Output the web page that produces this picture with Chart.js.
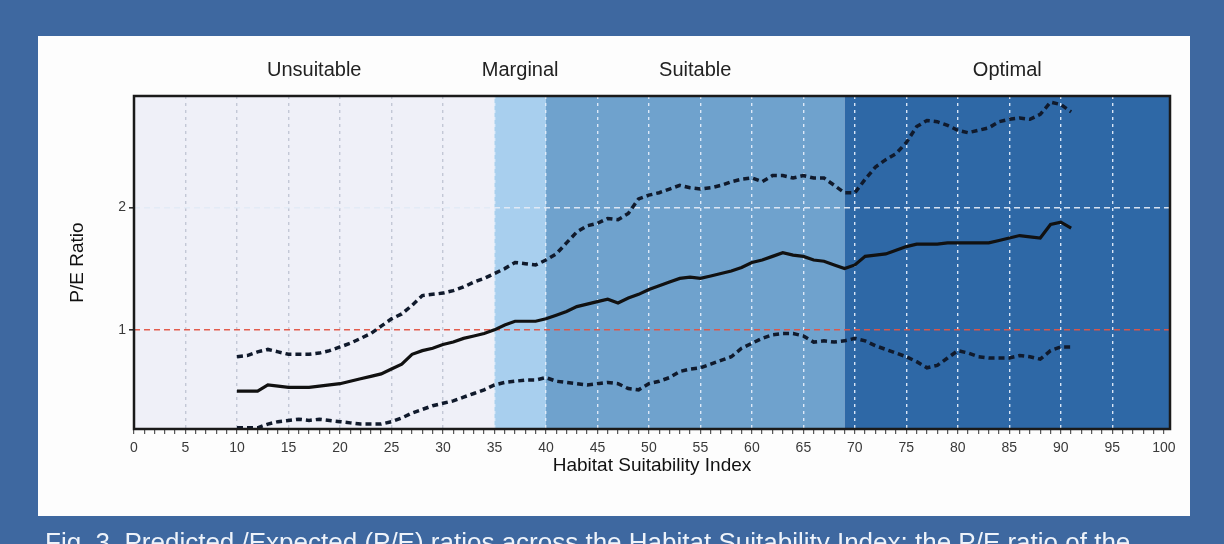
<!DOCTYPE html>
<html>
<head>
<meta charset="utf-8">
<script src="https://cdn.jsdelivr.net/npm/chart.js@4"></script>
<style>
  html, body { margin: 0; padding: 0; background: #3e68a0; }
  #wrap { position: relative; width: 1224px; height: 544px; }
</style>
</head>
<body>
<div id="wrap"><canvas id="chart" width="1224" height="544"></canvas></div>
<script>
// habitat suitability index (x) for each sample
const hsiValues = [10, 11, 12, 13, 14, 15, 16, 17, 18, 19,
  20, 21, 22, 23, 24, 25, 26, 27, 28, 29,
  30, 31, 32, 33, 34, 35, 36, 37, 38, 39,
  40, 41, 42, 43, 44, 45, 46, 47, 48, 49,
  50, 51, 52, 53, 54, 55, 56, 57, 58, 59,
  60, 61, 62, 63, 64, 65, 66, 67, 68, 69,
  70, 71, 72, 73, 74, 75, 76, 77, 78, 79,
  80, 81, 82, 83, 84, 85, 86, 87, 88, 89,
  90, 91];

// mean P/E ratio (solid line)
const meanRatio = [0.50, 0.50, 0.50, 0.55, 0.54, 0.53, 0.53, 0.53, 0.54, 0.55,
  0.56, 0.58, 0.60, 0.62, 0.64, 0.68, 0.72, 0.80, 0.83, 0.85,
  0.88, 0.90, 0.93, 0.95, 0.97, 1.00, 1.04, 1.07, 1.07, 1.07,
  1.09, 1.12, 1.15, 1.19, 1.21, 1.23, 1.25, 1.22, 1.26, 1.29,
  1.33, 1.36, 1.39, 1.42, 1.43, 1.42, 1.44, 1.46, 1.48, 1.51,
  1.55, 1.57, 1.60, 1.63, 1.61, 1.60, 1.57, 1.56, 1.53, 1.50,
  1.53, 1.60, 1.61, 1.62, 1.65, 1.68, 1.70, 1.70, 1.70, 1.71,
  1.71, 1.71, 1.71, 1.71, 1.73, 1.75, 1.77, 1.76, 1.75, 1.86,
  1.88, 1.83];

// upper bound (dashed)
const upperRatio = [0.78, 0.79, 0.82, 0.84, 0.82, 0.80, 0.80, 0.80, 0.81, 0.83,
  0.86, 0.89, 0.93, 0.97, 1.03, 1.09, 1.13, 1.20, 1.28, 1.29,
  1.30, 1.32, 1.35, 1.39, 1.42, 1.46, 1.50, 1.55, 1.54, 1.53,
  1.57, 1.62, 1.71, 1.80, 1.85, 1.87, 1.91, 1.90, 1.95, 2.07,
  2.10, 2.12, 2.15, 2.18, 2.16, 2.15, 2.16, 2.18, 2.21, 2.23,
  2.24, 2.21, 2.26, 2.26, 2.24, 2.26, 2.24, 2.24, 2.18, 2.12,
  2.12, 2.23, 2.33, 2.39, 2.44, 2.53, 2.66, 2.71, 2.70, 2.67,
  2.63, 2.61, 2.63, 2.65, 2.70, 2.72, 2.73, 2.72, 2.76, 2.86,
  2.84, 2.78];

// lower bound (dashed)
const lowerRatio = [0.20, 0.20, 0.20, 0.23, 0.25, 0.26, 0.27, 0.26, 0.27, 0.26,
  0.25, 0.24, 0.23, 0.23, 0.23, 0.25, 0.28, 0.32, 0.35, 0.38,
  0.40, 0.42, 0.45, 0.48, 0.51, 0.55, 0.57, 0.58, 0.59, 0.59,
  0.61, 0.58, 0.57, 0.56, 0.55, 0.56, 0.57, 0.56, 0.52, 0.51,
  0.56, 0.58, 0.61, 0.66, 0.68, 0.69, 0.72, 0.75, 0.78, 0.85,
  0.89, 0.93, 0.96, 0.97, 0.97, 0.95, 0.90, 0.91, 0.90, 0.91,
  0.93, 0.91, 0.87, 0.84, 0.81, 0.78, 0.74, 0.69, 0.71, 0.77,
  0.83, 0.81, 0.78, 0.77, 0.77, 0.77, 0.79, 0.78, 0.76, 0.83,
  0.86, 0.86];

// habitat classes along the x axis
const regionNames = ["Unsuitable", "Marginal", "Suitable", "Optimal"];
const regionStart = [0, 35, 40, 69];
const regionEnd = [35, 40, 69, 100.6];
const regionColors = ["#eff0f8", "#a8cfee", "#6fa2cd", "#2e68a6"];

const xTickLabels = [0, 5, 10, 15, 20, 25, 30, 35, 40, 45, 50, 55, 60, 65, 70, 75, 80, 85, 90, 95, 100];
const yTickLabels = [1, 2];

const captionText = "Fig. 3. Predicted /Expected (P/E) ratios across the Habitat Suitability Index; the P/E ratio of the";

const FONT = "'Liberation Sans', Arial, sans-serif";

// minor tick marks every 1 unit
const minorTicks = [];
for (let v = 0; v <= 100; v++) minorTicks.push(v);

const toPoints = (ys) => hsiValues.map((x, i) => ({ x: x, y: ys[i] }));

const backdrop = {
    id: "backdrop",
    beforeDraw(chart) {
        const { ctx, chartArea, scales } = chart;
        ctx.save();
        ctx.fillStyle = "#3e68a0";
        ctx.fillRect(0, 0, chart.width, chart.height);
        ctx.fillStyle = "#fdfdfd";
        ctx.fillRect(38, 36, 1152, 480);

        // class bands
        regionNames.forEach((name, i) => {
            const x1 = scales.x.getPixelForValue(regionStart[i]);
            const x2 = scales.x.getPixelForValue(regionEnd[i]);
            ctx.fillStyle = regionColors[i];
            ctx.fillRect(x1, chartArea.top, x2 - x1, chartArea.bottom - chartArea.top);
            ctx.fillStyle = "#222";
            ctx.font = "20px " + FONT;
            ctx.textAlign = "center";
            ctx.textBaseline = "middle";
            ctx.fillText(name, (x1 + x2) / 2, 70);
        });

        // caption under the panel, cut by the page edge
        ctx.fillStyle = "#eef3fa";
        ctx.font = "26px " + FONT;
        ctx.textAlign = "left";
        ctx.textBaseline = "alphabetic";
        ctx.fillText(captionText, 45, 551);
        ctx.restore();
    },
    afterDraw(chart) {
        const { ctx, chartArea } = chart;
        ctx.save();
        ctx.strokeStyle = "#1a1a1a";
        ctx.lineWidth = 2.5;
        ctx.strokeRect(chartArea.left, chartArea.top, chartArea.right - chartArea.left, chartArea.bottom - chartArea.top);
        ctx.restore();
    }
};

const ctx = document.getElementById("chart").getContext("2d");
new Chart(ctx, {
    type: "line",
    data: {
        datasets: [
            {
                label: "Upper",
                data: toPoints(upperRatio),
                borderColor: "#101a2c",
                borderWidth: 3.5,
                borderDash: [6, 4],
                pointRadius: 0,
                tension: 0,
            },
            {
                label: "Mean",
                data: toPoints(meanRatio),
                borderColor: "#111111",
                borderWidth: 3.2,
                pointRadius: 0,
                tension: 0,
            },
            {
                label: "Lower",
                data: toPoints(lowerRatio),
                borderColor: "#101a2c",
                borderWidth: 3.5,
                borderDash: [6, 4],
                pointRadius: 0,
                tension: 0,
            },
        ],
    },
    options: {
        responsive: false,
        animation: false,
        layout: { padding: { left: 66, right: 54, top: 96, bottom: 67 } },
        plugins: {
            legend: { display: false },
            tooltip: { enabled: false },
        },
        scales: {
            x: {
                type: "linear",
                min: 0,
                max: 100.6,
                afterBuildTicks: (s) => { s.ticks = minorTicks.map((v) => ({ value: v })); },
                afterFit: (s) => { s.height = 48; },
                ticks: {
                    autoSkip: false,
                    maxRotation: 0,
                    padding: 6,
                    color: "#3a3a3a",
                    font: { size: 14, family: FONT },
                    callback: (v) => (xTickLabels.includes(v) ? String(v) : ""),
                },
                grid: {
                    color: (c) => {
                        if (!c.tick || c.tick.value % 5 !== 0 || c.tick.value <= 0 || c.tick.value >= 100) return "rgba(0,0,0,0)";
                        return c.tick.value < 35 ? "rgba(190,195,210,0.9)" : "rgba(225,236,250,0.95)";
                    },
                    lineWidth: 1.4,
                    borderDash: [3, 4],
                    tickLength: 5,
                    tickColor: "#333",
                    tickWidth: 1,
                },
                border: { display: false, dash: [3, 4] },
                title: {
                    display: true,
                    text: "Habitat Suitability Index",
                    color: "#111",
                    font: { size: 19, family: FONT },
                    padding: 0,
                },
            },
            y: {
                type: "linear",
                min: 0.19,
                max: 2.91,
                afterBuildTicks: (s) => { s.ticks = yTickLabels.map((v) => ({ value: v })); },
                afterFit: (s) => { s.width = 68; },
                ticks: {
                    color: "#3a3a3a",
                    padding: 3,
                    font: { size: 14, family: FONT },
                },
                grid: {
                    color: (c) => (c.tick && c.tick.value === 1 ? "rgba(226,84,70,0.95)" : "rgba(226,234,246,0.95)"),
                    lineWidth: 1.6,
                    borderDash: [6, 4],
                    tickLength: 5,
                    tickColor: "#333",
                },
                border: { display: false, dash: [6, 4] },
                title: {
                    display: true,
                    text: "P/E Ratio",
                    color: "#111",
                    font: { size: 19, family: FONT },
                    padding: 0,
                },
            },
        },
    },
    plugins: [backdrop],
});
</script>
</body>
</html>
